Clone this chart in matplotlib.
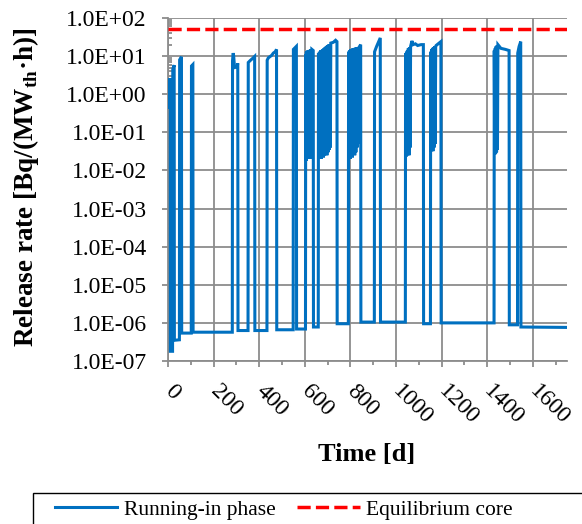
import matplotlib
matplotlib.use("Agg")
import matplotlib.pyplot as plt
from matplotlib.ticker import FixedLocator, MultipleLocator, LogLocator, NullFormatter, FixedFormatter
from matplotlib.patches import Rectangle
import numpy as np

plt.rcParams['font.family'] = ['Liberation Serif', 'DejaVu Serif']
plt.rcParams['mathtext.fontset'] = 'custom'
plt.rcParams['mathtext.rm'] = 'Liberation Serif'
plt.rcParams['mathtext.bf'] = 'Liberation Serif:bold'

# ---- data ----
t_days = [
    0, 0.7, 1.4, 2.1, 2.8, 3.5, 4.2, 4.9, 5.6, 6.3, 7.0, 7.7, 8.4, 9.1, 10,
    10.5, 20, 21, 27, 28, 50, 51, 59, 60, 102, 103, 109, 110, 282,
    283, 286, 288, 292, 303, 306, 307, 351,
    352, 360, 372, 380, 381, 434,
    435, 440, 455, 462, 470, 476, 477, 549,
    550, 557, 563, 564, 603,
    604, 606, 607, 609, 610, 612, 613, 615, 616, 618, 619, 621, 622, 624, 625, 627, 628, 630, 631, 637, 638, 659,
    660, 662, 664, 667, 669, 672, 674, 677, 679, 682, 684, 687, 689, 692, 694, 697, 699, 702, 704, 707, 709, 712, 714, 725, 735, 741, 742, 791,
    792, 794, 796, 799, 801, 804, 806, 809, 811, 814, 816, 819, 821, 824, 826, 829, 831, 833, 835, 840, 845, 846, 905,
    906, 915, 925, 931, 932, 1041,
    1042, 1044, 1046, 1048, 1050, 1052, 1054, 1057, 1059, 1062, 1064, 1066, 1070, 1075, 1085, 1095, 1110, 1120, 1121, 1151,
    1152, 1154, 1156, 1158, 1160, 1162, 1164, 1167, 1169, 1172, 1174, 1176, 1185, 1197, 1198, 1430,
    1431, 1433, 1435, 1437, 1439, 1441, 1443, 1445, 1447, 1460, 1480, 1496, 1497, 1533,
    1534, 1540, 1547, 1548, 1755,
]
release = [
    0.45, 2.0, 0.5, 2.4, 0.6, 2.2, 0.5, 2.5, 0.7, 2.3, 0.6, 2.6, 0.8, 2.4, 1.6,
    1.8e-7, 1.8e-7, 4.5, 5.8, 3.5e-7, 3.6e-7, 8.0, 9.6, 5.4e-7, 5.4e-7, 5.5, 6.0, 5.7e-7, 5.7e-7,
    7.5, 12.0, 10.0, 5.0, 5.2, 6.5, 6.3e-7, 6.3e-7,
    6.8, 7.6, 8.8, 9.8, 6.3e-7, 6.3e-7,
    7.8, 9.0, 10.5, 12.0, 13.0, 15.0, 6.6e-7, 6.6e-7,
    15.0, 16.5, 18.0, 6.9e-7, 6.9e-7,
    11.0, 0.018, 13.0, 0.02, 13.5, 0.025, 14.0, 0.02, 14.0, 0.03, 14.5, 0.02, 14.5, 0.04, 15.0, 0.02, 15.0, 0.05, 15.0, 14.0, 7.8e-7, 7.8e-7,
    12.0, 0.02, 13.0, 0.022, 14.0, 0.02, 14.5, 0.03, 15.0, 0.022, 16.0, 0.025, 17.0, 0.03, 18.0, 0.025, 19.0, 0.03, 20.0, 0.035, 20.0, 0.04, 22.0, 23.0, 26.0, 24.0, 9.5e-7, 9.5e-7,
    13.0, 0.022, 14.0, 0.02, 15.0, 0.025, 15.0, 0.022, 16.0, 0.03, 16.0, 0.025, 16.5, 0.03, 17.0, 0.04, 16.0, 0.05, 16.0, 18.0, 20.0, 1.05e-6, 1.05e-6,
    13.0, 18.0, 25.0, 30.0, 1.05e-6, 1.05e-6,
    12.0, 0.023, 13.0, 0.025, 14.0, 0.03, 16.0, 0.025, 17.0, 0.04, 18.0, 20.0, 25.0, 20.0, 21.0, 19.0, 20.0, 20.0, 9.5e-7, 9.5e-7,
    13.0, 0.032, 15.0, 0.035, 16.0, 0.032, 17.0, 0.04, 18.0, 0.05, 18.0, 19.0, 21.0, 24.0, 1.0e-6, 1.0e-6,
    14.0, 0.026, 16.0, 0.028, 18.0, 0.03, 19.0, 0.035, 20.0, 16.0, 15.0, 14.0, 8.9e-7, 8.9e-7,
    12.0, 18.0, 24.0, 7.8e-7, 7.6e-7,
]
equilibrium_t = [0, 1755]
equilibrium_rate = [50, 50]

xtick_values = [0, 200, 400, 600, 800, 1000, 1200, 1400, 1600]
xtick_labels = ['0', '200', '400', '600', '800', '1000', '1200', '1400', '1600']
ytick_values = [1e-7, 1e-6, 1e-5, 1e-4, 1e-3, 1e-2, 1e-1, 1e0, 1e1, 1e2]
ytick_labels = ['1.0E-07', '1.0E-06', '1.0E-05', '1.0E-04', '1.0E-03',
                '1.0E-02', '1.0E-01', '1.0E+00', '1.0E+01', '1.0E+02']

series_names = ['Running-in phase', 'Equilibrium core']

# ---- figure ----
W, H = 582, 524
fig = plt.figure(figsize=(W / 100, H / 100), dpi=100)
ax = fig.add_axes([168 / W, 1 - 361 / H, (567 - 168) / W, (361 - 18) / H])

grid_c = '#8c8c8c'
ax.set_yscale('log')
ax.set_xlim(0, 1750)
ax.set_ylim(1e-7, 1e2)

l1, = ax.plot(t_days, release, color='#0070C0', lw=2.2, solid_joinstyle='miter', zorder=3)
l2, = ax.plot(equilibrium_t, equilibrium_rate, color='#FF0000', lw=2.5,
              linestyle=(0, (3.8, 1.5)), zorder=4)

ax.xaxis.set_major_locator(FixedLocator(xtick_values))
ax.xaxis.set_major_formatter(FixedFormatter(xtick_labels))
ax.xaxis.set_minor_locator(MultipleLocator(100))
ax.yaxis.set_major_locator(FixedLocator(ytick_values))
ax.yaxis.set_major_formatter(FixedFormatter(ytick_labels))
ax.yaxis.set_minor_locator(LogLocator(base=10, subs=np.arange(2, 10), numticks=30))
ax.yaxis.set_minor_formatter(NullFormatter())

ax.set_axisbelow(True)
ax.grid(True, which='major', color=grid_c, lw=1.3)
for s in ['top', 'right']:
    ax.spines[s].set_visible(False)
for s in ['left', 'bottom']:
    ax.spines[s].set_color(grid_c)
    ax.spines[s].set_linewidth(1.3)

ax.tick_params(axis='x', which='major', direction='out', length=4.3, width=1.3, color=grid_c,
               labelsize=17, pad=15)
ax.tick_params(axis='x', which='minor', direction='out', length=3.2, width=1.3, color=grid_c)
ax.tick_params(axis='y', which='major', direction='out', length=4.3, width=1.3, color=grid_c,
               labelsize=17, pad=11)
ax.tick_params(axis='y', which='minor', direction='in', length=3.2, width=1.3, color=grid_c)

for lab in ax.get_xticklabels():
    lab.set_rotation(-45)
    lab.set_rotation_mode('anchor')
    lab.set_ha('left')
    lab.set_va('center')

ax.set_ylabel('Release rate [Bq/(MW$_{\\mathbf{th}}$·h)]', fontsize=19.5, fontweight='bold', va='center')
ax.yaxis.set_label_coords((26 - 168) / 399, 0.506)
ax.set_xlabel('Time [d]', fontsize=19, fontweight='bold', va='center')
ax.xaxis.set_label_coords((367 - 168) / 399, (361 - 455) / 343)

# legend box (partly outside the figure, as in the reference)
fig.patches.append(Rectangle((33 / W, -0.1), 1.0, 0.1 + (1 - 493 / H), transform=fig.transFigure,
                             fill=False, ec='black', lw=1.0))
fig.legend([l1, l2], series_names, loc='center left',
           bbox_to_anchor=(55 / W, 1 - 510 / H), bbox_transform=fig.transFigure,
           ncol=2, frameon=False, fontsize=15.5, borderpad=0, borderaxespad=0,
           handlelength=2.9, handletextpad=0.3, columnspacing=1.0)

fig.savefig('out.png', dpi=100)
